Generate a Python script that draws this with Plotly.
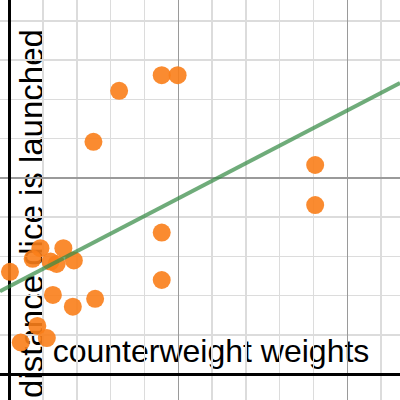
import plotly.graph_objects as go

# ---- data ----
counterweight_weights = [3.25, 4.51, 4.98, 2.49, 9.05, 9.05, 4.51, 4.51,
                         0.02, 0.92, 1.60, 0.69, 1.22, 1.40, 1.91, 1.29,
                         1.88, 2.54, 0.83, 0.34, 1.11]
distance_launched = [7.22, 7.62, 7.62, 5.92, 5.33, 4.31, 3.61, 2.40,
                     2.61, 3.21, 3.21, 2.94, 2.87, 2.81, 2.90, 2.02,
                     1.72, 1.92, 1.23, 0.81, 0.92]
fit_slope = 0.448
fit_intercept = 2.24
x_range = [-0.275, 11.56]
y_range = [-0.657, 9.534]
x_label = "counterweight weights"
y_label = "distance dice is launched"

fit_x = list(x_range)
fit_y = [fit_slope * x + fit_intercept for x in fit_x]

fig = go.Figure()
fig.add_trace(go.Scatter(
    x=counterweight_weights, y=distance_launched, mode="markers",
    marker=dict(size=18, color="#fa7e19", opacity=0.9, line=dict(width=0)),
    hoverinfo="skip"))
fig.add_trace(go.Scatter(
    x=fit_x, y=fit_y, mode="lines",
    line=dict(color="rgba(56,140,70,0.72)", width=4),
    hoverinfo="skip"))

label_font = dict(family="Liberation Sans, Arial, sans-serif", color="black")

fig.update_layout(
    width=400, height=400,
    margin=dict(l=0, r=0, t=0, b=0),
    paper_bgcolor="white", plot_bgcolor="white",
    showlegend=False,
    xaxis=dict(range=x_range, showticklabels=False, ticks="",
               tick0=0, dtick=5, showgrid=True, gridcolor="#9a9a9a", gridwidth=1.5,
               minor=dict(tick0=0, dtick=1, showgrid=True, gridcolor="#dcdcdc", gridwidth=1.5),
               zeroline=True, zerolinecolor="black", zerolinewidth=3,
               showline=False, fixedrange=True),
    yaxis=dict(range=y_range, showticklabels=False, ticks="",
               tick0=0, dtick=5, showgrid=True, gridcolor="#9a9a9a", gridwidth=1.5,
               minor=dict(tick0=0, dtick=1, showgrid=True, gridcolor="#dcdcdc", gridwidth=1.5),
               zeroline=True, zerolinecolor="black", zerolinewidth=3,
               showline=False, fixedrange=True),
    shapes=[
        dict(type="rect", xref="paper", yref="paper",
             x0=0.12, x1=0.935, y0=0.0925, y1=0.1675,
             fillcolor="white", line=dict(width=0), layer="between",
             label=dict(text=x_label, font=dict(size=32, **label_font),
                        textposition="middle center", padding=0)),
        dict(type="rect", xref="paper", yref="paper",
             x0=0.0325, x1=0.1075, y0=0.0, y1=0.9325,
             fillcolor="white", line=dict(width=0), layer="between",
             label=dict(text=y_label, font=dict(size=33, **label_font),
                        textangle=-90, textposition="middle center", padding=0)),
    ],
)

fig.write_html("out.html",
               config={"displayModeBar": False, "staticPlot": True},
               post_script="document.body.style.margin='0';document.body.style.overflow='hidden';")
